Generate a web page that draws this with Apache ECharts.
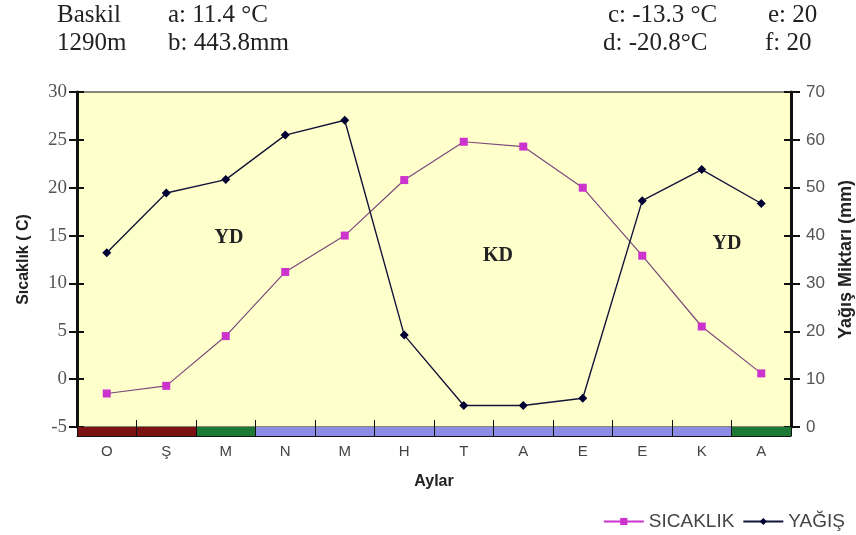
<!DOCTYPE html>
<html>
<head>
<meta charset="utf-8">
<script src="https://cdn.jsdelivr.net/npm/echarts@6/dist/echarts.min.js"></script>
<style>html,body{margin:0;padding:0;background:#fff;}#c{width:856px;height:535px;}</style>
</head>
<body>
<div id="c"></div>
<script>
// ---- data ----
const months = ['O', 'Ş', 'M', 'N', 'M', 'H', 'T', 'A', 'E', 'E', 'K', 'A'];
const temperature = [-1.5, -0.7, 4.5, 11.2, 15.0, 20.8, 24.8, 24.3, 20.0, 12.9, 5.5, 0.6];
const precipitation = [36.4, 48.9, 51.7, 61.0, 64.1, 19.2, 4.5, 4.5, 6.0, 47.3, 53.8, 46.7];
const bandClass = ['r', 'r', 'g', 'b', 'b', 'b', 'b', 'b', 'b', 'b', 'b', 'g'];
const tempTicks = [-5, 0, 5, 10, 15, 20, 25, 30];
const rainTicks = [0, 10, 20, 30, 40, 50, 60, 70];
const headerLeft = [['Baskil', 'a: 11.4 °C'], ['1290m', 'b: 443.8mm']];
const headerRight = [['c: -13.3 °C', 'e: 20'], ['d: -20.8°C', 'f: 20']];
const zoneLabels = ['YD', 'KD', 'YD'];

const bandColors = { r: '#7b1212', g: '#1c7a36', b: '#8c8ce6' };

const chart = echarts.init(document.getElementById('c'));
const serif = '"Liberation Serif", "DejaVu Serif", serif';
const sans = '"Liberation Sans", Arial, sans-serif';

const hdr = [];
const hxL = [[57, 168], [57, 168]];
const hxR = [[608, 768], [603, 765]];
[0, 1].forEach(r => {
  const top = 3 + r * 28;
  hdr.push({ type: 'text', left: hxL[r][0], top: top, style: { text: headerLeft[r][0], font: '25px ' + serif, fill: '#222' } });
  hdr.push({ type: 'text', left: hxL[r][1], top: top, style: { text: headerLeft[r][1], font: '25px ' + serif, fill: '#222' } });
  hdr.push({ type: 'text', left: hxR[r][0], top: top, style: { text: headerRight[r][0], font: '25px ' + serif, fill: '#222' } });
  hdr.push({ type: 'text', left: hxR[r][1], top: top, style: { text: headerRight[r][1], font: '25px ' + serif, fill: '#222' } });
});
const zonePos = [[229, 238], [498, 256], [727, 244]];
zoneLabels.forEach((t, i) => {
  hdr.push({ type: 'text', x: zonePos[i][0], y: zonePos[i][1], z: 50,
    style: { text: t, font: 'bold 20px ' + serif, fill: '#222', textAlign: 'center', textVerticalAlign: 'middle' } });
});

const option = {
  animation: false,
  backgroundColor: '#fff',
  graphic: hdr,
  grid: [
    { left: 77, right: 65, top: 92, bottom: 108, show: true, backgroundColor: '#FFFFCC', borderColor: '#111', borderWidth: 1,
      outerBoundsMode: 'none', containLabel: false },
    { left: 77, right: 65, top: 427, height: 9, show: false, outerBoundsMode: 'none', containLabel: false }
  ],
  legend: {
    right: 6, top: 507,
    itemWidth: 40, itemHeight: 9, itemGap: 8,
    textStyle: { fontFamily: sans, fontSize: 19, color: '#444' },
    data: [
      { name: 'SICAKLIK', lineStyle: { color: '#cc33cc' } },
      { name: 'YAĞIŞ' }
    ]
  },
  xAxis: [
    { type: 'category', gridIndex: 0, data: months, boundaryGap: true,
      axisLine: { show: false }, axisTick: { show: false }, axisLabel: { show: false } },
    { type: 'category', gridIndex: 1, data: months, boundaryGap: true, z: 10,
      axisLine: { show: true, lineStyle: { color: '#111', width: 1 } },
      axisTick: { show: true, inside: true, length: 16, lineStyle: { color: '#111', width: 1 } },
      axisLabel: { margin: 8, fontFamily: sans, fontSize: 15, color: '#444' },
      name: 'Aylar', nameLocation: 'middle', nameGap: 38,
      nameTextStyle: { fontFamily: sans, fontSize: 16, fontWeight: 'bold', color: '#222' } }
  ],
  yAxis: [
    { type: 'value', gridIndex: 0, position: 'left', min: tempTicks[0], max: tempTicks[tempTicks.length - 1], interval: 5,
      splitLine: { show: false },
      axisLine: { show: true, lineStyle: { color: '#111', width: 3 } },
      axisTick: { show: true, length: 8, lineStyle: { color: '#111', width: 2 } },
      axisLabel: { margin: 10, fontFamily: serif, fontSize: 19, color: '#555' },
      name: 'Sıcaklık ( C)', nameLocation: 'middle', nameRotate: 90, nameGap: 45,
      nameTextStyle: { fontFamily: sans, fontSize: 16, fontWeight: 'bold', color: '#222' } },
    { type: 'value', gridIndex: 0, position: 'left', min: tempTicks[0], max: tempTicks[tempTicks.length - 1], interval: 5,
      splitLine: { show: false }, axisLine: { show: false },
      axisTick: { show: true, inside: true, length: 7, lineStyle: { color: '#111', width: 2 } },
      axisLabel: { show: false } },
    { type: 'value', gridIndex: 0, position: 'right', min: rainTicks[0], max: rainTicks[rainTicks.length - 1], interval: 10,
      splitLine: { show: false },
      axisLine: { show: true, lineStyle: { color: '#111', width: 3 } },
      axisTick: { show: true, length: 9, lineStyle: { color: '#111', width: 2 } },
      axisLabel: { margin: 15, fontFamily: sans, fontSize: 17, color: '#555' },
      name: 'Yağış Miktarı (mm)', nameLocation: 'middle', nameRotate: 90, nameGap: 46,
      nameTextStyle: { fontFamily: sans, fontSize: 18, fontWeight: 'bold', color: '#222' } },
    { type: 'value', gridIndex: 0, position: 'right', min: rainTicks[0], max: rainTicks[rainTicks.length - 1], interval: 10,
      splitLine: { show: false }, axisLine: { show: false },
      axisTick: { show: true, inside: true, length: 7, lineStyle: { color: '#111', width: 2 } },
      axisLabel: { show: false } },
    { type: 'value', gridIndex: 1, min: 0, max: 1, show: false }
  ],
  series: [
    { name: 'band', type: 'bar', xAxisIndex: 1, yAxisIndex: 4, barCategoryGap: '0%', silent: true,
      data: bandClass.map(c => ({ value: 1, itemStyle: { color: bandColors[c] } })) },
    { name: 'SICAKLIK', type: 'line', xAxisIndex: 0, yAxisIndex: 0, data: temperature,
      symbol: 'rect', symbolSize: 8, z: 4,
      itemStyle: { color: '#cc33cc' },
      lineStyle: { color: '#7a4a7a', width: 1.2 } },
    { name: 'YAĞIŞ', type: 'line', xAxisIndex: 0, yAxisIndex: 2, data: precipitation,
      symbol: 'diamond', symbolSize: 9, z: 5,
      itemStyle: { color: '#000033' },
      lineStyle: { color: '#14143a', width: 1.4 } }
  ]
};
chart.setOption(option);
</script>
</body>
</html>
